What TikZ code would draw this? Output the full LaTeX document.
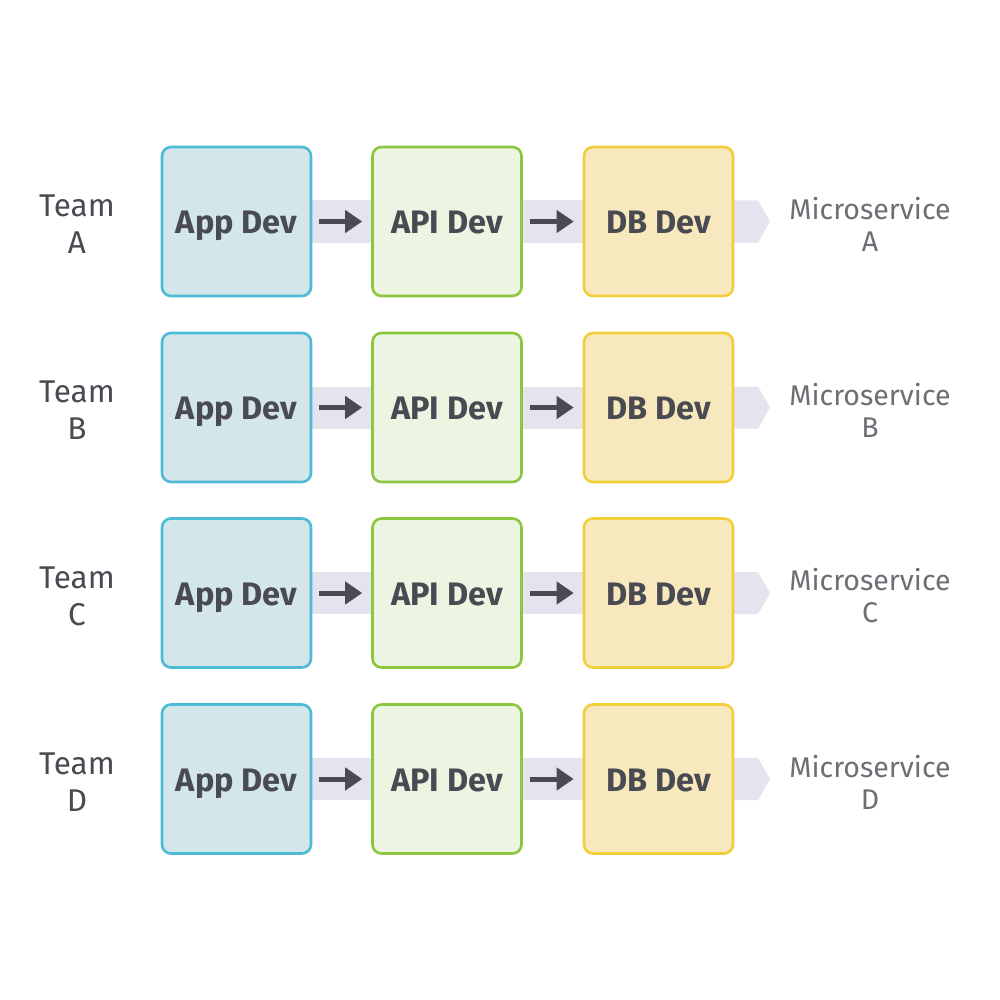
\documentclass[tikz,border=0pt]{standalone}
\usepackage{fontspec}
\setmainfont{Fira Sans}
\usetikzlibrary{arrows.meta}
\definecolor{txt}{HTML}{4A4A52}
\definecolor{band}{HTML}{E4E4EE}
\definecolor{appf}{HTML}{D3E6EA}\definecolor{appd}{HTML}{4DBBD5}
\definecolor{apif}{HTML}{EBF5E1}\definecolor{apid}{HTML}{8DC63F}
\definecolor{dbf}{HTML}{F8E8BE}\definecolor{dbd}{HTML}{F0CF3A}
\newcommand{\lowtxt}[1]{\raisebox{-12pt}[0pt][0pt]{#1}}
\begin{document}
\begin{tikzpicture}[x=1pt,y=-1pt,
 box/.style={minimum width=149pt,minimum height=149pt,rounded corners=9pt,line width=2.6pt,inner sep=0pt,font=\fontsize{32.5}{38}\selectfont\bfseries,text=txt},
 app/.style={box,fill=appf,draw=appd},
 api/.style={box,fill=apif,draw=apid},
 db/.style={box,fill=dbf,draw=dbd},
 lab/.style={font=\fontsize{31.5}{37}\selectfont,text=txt,align=center},
 ms/.style={font=\fontsize{28.5}{32}\selectfont,text=txt!80,align=center},
 arr/.style={-{Triangle[length=17pt,width=22pt]},line width=5pt,draw=txt}]
\useasboundingbox (0,0) rectangle (1000,1000);
\fill[white] (0,0) rectangle (1000,1000);
\foreach \y/\L in {221.5/A,407.5/B,593/C,779/D}{
 \fill[band] (300,\y-21) rectangle (380,\y+21);
 \fill[band] (510,\y-21) rectangle (590,\y+21);
 \fill[band] (720,\y-21) -- (758,\y-21) -- (770,\y) -- (758,\y+21) -- (720,\y+21) -- cycle;
 \node[app] (app\L) at (236.5,\y) {\lowtxt{App Dev}};
 \node[api] (api\L) at (447,\y) {\lowtxt{API Dev}};
 \node[db] (db\L) at (658.5,\y) {\lowtxt{DB Dev}};
 \draw[arr] ([xshift=7pt]app\L.east) -- ([xshift=-9pt]api\L.west);
 \draw[arr] ([xshift=7pt]api\L.east) -- ([xshift=-9pt]db\L.west);
 \node[lab] (team\L) at (77,\y+3) {Team\\\L};
 \node[ms] (ms\L) at (870,\y+3) {Microservice\\\L};
}
\end{tikzpicture}
\end{document}
